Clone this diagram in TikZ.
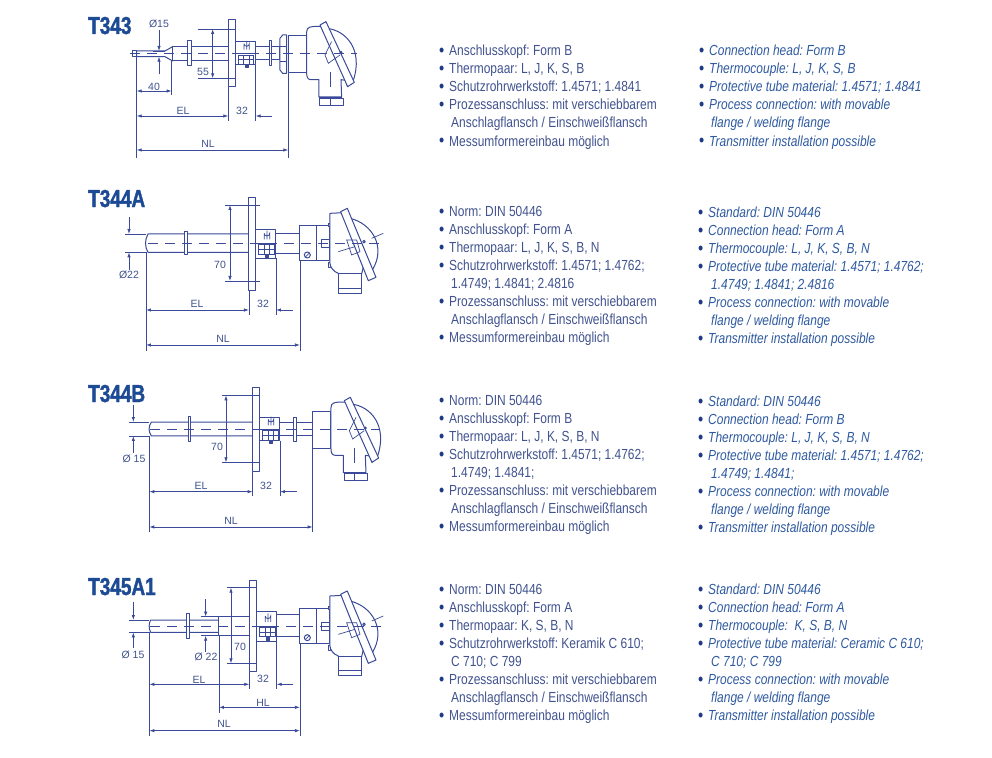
\documentclass[tikz,border=0pt]{standalone}
\usepackage{fontspec}
\usetikzlibrary{arrows.meta}
\setmainfont[FakeStretch=0.82]{Liberation Sans}
\newfontfamily\titlefont[FakeStretch=0.775,FakeBold=1.5]{Liberation Sans Bold}
\newfontfamily\dimfont{Liberation Sans}
\definecolor{dline}{HTML}{3A4A98}
\definecolor{ltxt}{HTML}{41538F}
\definecolor{rtxt}{HTML}{2F5AA0}
\definecolor{ttl}{HTML}{1C4A94}
\definecolor{blt}{HTML}{1F3A85}
\newcounter{tn}
\newcommand{\blob}{\smash{\textcolor{blt}{\upshape\fontsize{18}{14}\selectfont\raisebox{-1pt}{•}}}}
\tikzset{
 titletxt/.style={anchor=base west,inner sep=0pt,text=ttl,font=\titlefont\fontsize{24.5}{24}\selectfont},
 ltext/.style={anchor=base west,inner sep=0pt,text=ltxt,font=\frenchspacing\fontsize{14.6}{14}\selectfont},
 rtext/.style={anchor=base west,inner sep=0pt,text=rtxt,font=\frenchspacing\itshape\fontsize{14.6}{14}\selectfont},
 dimtxt/.style={inner sep=0pt,text=ltxt,font=\dimfont\fontsize{10.5}{10}\selectfont},
 part/.style={draw=dline,line width=1pt,fill=white,line join=round},
 thin part/.style={draw=dline,line width=0.7pt},
 axisline/.style={draw=dline,line width=0.6pt,dash pattern=on 10pt off 7pt},
 extline/.style={draw=dline,line width=0.75pt},
 dimline/.style={draw=dline,line width=0.75pt,{Latex[length=5pt,width=3.4pt]}-{Latex[length=5pt,width=3.4pt]}},
 dimhead/.style={draw=dline,line width=0.75pt,-{Latex[length=5pt,width=3.4pt]}},
 pics/headb/.style={code={
  \draw[part] (0,-55) rectangle (55,58);
  \draw[part] (55,-55) -- (55,-65) .. controls (55,-80) and (65,-82) .. (95,-82) -- (115,-76)
     .. controls (175,-70) and (225,-10) .. (195,80) -- (178,99) -- (172,80) -- (158,78) -- (160,130) -- (92,130) -- (92,78) -- (68,78) .. controls (58,78) and (55,70) .. (55,58) -- cycle;
  \draw[part] (95,-86) -- (113,-96) -- (198,86) -- (178,99) -- cycle;
  \draw[thin part] (130,-36) -- (110,4) -- (120,29) -- (155,4);
  \draw[part] (158,-4) circle (3);
  \draw[part] (95,134) rectangle (165,155);
  \draw[thin part] (92,130) -- (160,130);
  \draw[thin part] (125,134) -- (125,155);
  \draw[thin part] (125,55) -- (125,100);
 }},
 pics/heada/.style={code={
  \draw[part] (0,-52) rectangle (50,52);
  \draw[part] (50,-52) rectangle (90,52);
  \draw[part] (85,-60) rectangle (92,-50);
  \draw[part] (85,58) rectangle (92,72);
  \draw[part] (90,-90) -- (128,-92) -- (150,-75) .. controls (215,-60) and (260,10) .. (217,80) -- (195,50) -- (185,92) -- (115,92) -- (115,90) .. controls (100,85) and (90,70) .. (90,60) -- cycle;
  \draw[part] (122,-95) -- (142,-105) -- (228,102) -- (205,112) -- cycle;
  \draw[part] (65,-10) rectangle (90,12);
  \draw[thin part] (140,-10) -- (170,-10) -- (180,25) -- (155,35) -- cycle;
  \draw[part] (192,-5) circle (4);
  \draw[part] (117,92) rectangle (185,135);
  \draw[part] (117,135) rectangle (185,150);
  \draw[part] (22,35) circle (9);
  \draw[thin part] (16,41) -- (28,29);
  \draw[thin part] (115,25) -- (165,10);
  \draw[thin part] (215,-15) -- (250,-30);
 }},
 pics/clamp/.style={code={
  % block with screw detail; origin at block left, axis level
  \draw[thin part] (0,0) -- (60,0);
  \draw[thin part] (25,-30) arc (180:0:8) -- (41,-12) (25,-30) -- (25,-12) (33,-38) -- (33,-12);
  \draw[thin part] (8,4) rectangle (54,18);
  \draw[thin part] (8,18) rectangle (54,32);
  \draw[thin part] (24,4) -- (24,32) (40,4) -- (40,32);
  \draw[part,fill=dline] (30,34) rectangle (38,42);
 }}
}
\newcommand{\lt}[3]{\stepcounter{tn}\node[ltext,name=t\thetn] at (#1,#2) {\makebox[10pt][l]{\blob}#3};}
\newcommand{\lc}[3]{\stepcounter{tn}\node[ltext,name=t\thetn] at (#1,#2) {#3};}
\newcommand{\rt}[3]{\stepcounter{tn}\node[rtext,name=t\thetn] at (#1,#2) {\makebox[10pt][l]{\blob}#3};}
\newcommand{\rc}[3]{\stepcounter{tn}\node[rtext,name=t\thetn] at (#1,#2) {#3};}
\newcommand{\dtx}[3]{\stepcounter{tn}\node[dimtxt,name=t\thetn] at (#1,#2) {#3};}
\begin{document}
\begin{tikzpicture}[x=1pt,y=-1pt]
\useasboundingbox (0,0) rectangle (992,757);
\fill[white] (0,0) rectangle (992,757);

% titles
\node[titletxt,name=h1] at (88,34) {T343};
\node[titletxt,name=h2] at (88,207) {T344A};
\node[titletxt,name=h3] at (88,402) {T344B};
\node[titletxt,name=h4] at (88,595) {T345A1};

% ---- T343 drawing
\begin{scope}[shift={(120pt,-5pt)},x=0.3333pt,y=-0.3333pt]
 \draw[part] (38,138) rectangle (50,155);
 \draw[part] (50,138) -- (135,138) -- (158,125) -- (158,168) -- (135,155) -- (50,155) -- cycle;
 \draw[part] (158,125) rectangle (325,168);
 \draw[part] (204,108) rectangle (214,183);
 \draw[part] (347,110) rectangle (407,180);
 \draw[part] (407,125) rectangle (480,165);
 \draw[part] (448,108) rectangle (456,182);
 \draw[part] (325,45) rectangle (347,245);
 \draw[part] (480,100) -- (488,90) -- (500,90) -- (500,205) -- (488,205) -- (480,195) -- cycle;
 \draw[thin part] (480,125) -- (500,125) (480,168) -- (500,168);
 \pic at (505,146) {headb};
 \pic at (347,146) {clamp};
 \draw[axisline] (30,146) -- (710,146);
 % dims
 \draw[extline] (50,150) -- (50,458) (155,165) -- (155,270) (325,245) -- (325,348) (407,180) -- (407,348) (505,205) -- (505,458);
 \draw[extline] (233,72) -- (345,72) (233,220) -- (345,220);
 \draw[extline] (100,138) -- (135,138) (100,155) -- (135,155);
 \draw[dimhead] (117,75) -- (117,138);
 \draw[dimhead] (117,208) -- (117,155);
 \draw[dimline] (278,72) -- (278,220);
 \draw[dimline] (50,258) -- (155,258);
 \draw[dimline] (50,333) -- (325,333);
 \draw[dimhead] (457,333) -- (407,333);
 \draw[dimline] (50,435) -- (505,435);
\end{scope}
\dtx{159}{24}{Ø15}\dtx{203}{72}{55}\dtx{154}{87}{40}\dtx{183}{111}{EL}\dtx{242}{111}{32}\dtx{208}{144}{NL}

% ---- T344A drawing
\begin{scope}[shift={(120pt,-190pt)},x=0.3333pt,y=-0.3333pt]
 \draw[part] (84,132) -- (387,132) -- (387,187) -- (84,187) .. controls (74,170) and (74,150) .. (84,132) -- cycle;
 \draw[part] (195,125) rectangle (203,195);
 \draw[part] (408,118) rectangle (468,205);
 \draw[part] (468,130) rectangle (540,190);
 \draw[part] (387,22) rectangle (408,302);
 \pic at (540,160) {heada};
 \pic at (408,160) {clamp};
 \draw[axisline] (85,160) -- (790,160);
 \draw[extline] (78,187) -- (78,482) (387,302) -- (387,375) (468,205) -- (468,375) (540,212) -- (540,482);
 \draw[extline] (15,132) -- (78,132) (15,187) -- (78,187);
 \draw[extline] (315,45) -- (420,45) (315,273) -- (420,273);
 \draw[dimhead] (27,80) -- (27,132);
 \draw[dimhead] (27,240) -- (27,187);
 \draw[dimline] (330,45) -- (330,273);
 \draw[dimline] (78,360) -- (387,360);
 \draw[dimhead] (518,360) -- (468,360);
 \draw[dimline] (78,465) -- (540,465);
\end{scope}
\dtx{129}{275}{Ø22}\dtx{220}{265}{70}\dtx{197}{304}{EL}\dtx{263}{304}{32}\dtx{223}{339}{NL}

% ---- T344B drawing
\begin{scope}[shift={(120pt,-380pt)},x=0.3333pt,y=-0.3333pt]
 \draw[part] (94,126) -- (398,126) -- (398,168) -- (94,168) .. controls (85,155) and (85,140) .. (94,126) -- cycle;
 \draw[part] (205,110) rectangle (213,185);
 \draw[part] (420,113) rectangle (480,182);
 \draw[part] (480,126) rectangle (578,168);
 \draw[part] (522,112) rectangle (530,185);
 \draw[part] (398,22) rectangle (420,275);
 \pic at (578,148) {headb};
 \pic at (420,148) {clamp};
 \draw[axisline] (90,148) -- (780,148);
 \draw[extline] (88,168) -- (88,455) (398,275) -- (398,347) (480,182) -- (480,347) (578,205) -- (578,455);
 \draw[extline] (28,126) -- (88,126) (28,168) -- (88,168);
 \draw[extline] (305,46) -- (420,46) (305,247) -- (420,247);
 \draw[dimhead] (40,75) -- (40,126);
 \draw[dimhead] (40,218) -- (40,168);
 \draw[dimline] (318,46) -- (318,247);
 \draw[dimline] (88,335) -- (398,335);
 \draw[dimhead] (530,335) -- (480,335);
 \draw[dimline] (88,441) -- (578,441);
\end{scope}
\dtx{134}{459}{Ø 15}\dtx{217}{447}{70}\dtx{201}{486}{EL}\dtx{266}{486}{32}\dtx{231}{521}{NL}

% ---- T345A1 drawing
\begin{scope}[shift={(120pt,-570pt)},x=0.3333pt,y=-0.3333pt]
 \draw[part] (92,150) -- (297,150) -- (297,187) -- (92,187) .. controls (86,175) and (86,160) .. (92,150) -- cycle;
 \draw[part] (200,130) rectangle (208,205);
 \draw[part] (297,140) rectangle (388,197);
 \draw[part] (411,123) rectangle (470,213);
 \draw[part] (470,133) rectangle (540,200);
 \draw[part] (388,30) rectangle (411,305);
 \pic at (540,168) {heada};
 \pic at (411,168) {clamp};
 \draw[axisline] (90,168) -- (790,168);
 \draw[extline] (88,187) -- (88,497) (297,197) -- (297,430) (388,305) -- (388,358) (470,213) -- (470,358) (540,220) -- (540,497);
 \draw[extline] (28,150) -- (88,150) (28,187) -- (88,187);
 \draw[extline] (243,140) -- (297,140) (243,197) -- (297,197);
 \draw[extline] (320,53) -- (411,53) (320,280) -- (411,280);
 \draw[dimhead] (40,97) -- (40,150);
 \draw[dimhead] (40,235) -- (40,187);
 \draw[dimhead] (257,88) -- (257,140);
 \draw[dimhead] (257,245) -- (257,197);
 \draw[dimline] (333,53) -- (333,280);
 \draw[dimline] (88,343) -- (388,343);
 \draw[dimhead] (520,343) -- (470,343);
 \draw[dimline] (297,412) -- (540,412);
 \draw[dimline] (88,482) -- (540,482);
\end{scope}
\dtx{133}{655}{Ø 15}\dtx{206}{657}{Ø 22}\dtx{240}{647}{70}\dtx{199}{680}{EL}\dtx{263}{679}{32}\dtx{263}{703}{HL}\dtx{224}{724}{NL}

% ---- German text
\lt{439}{56}{Anschlusskopf: Form B}
\lt{439}{74}{Thermopaar: L, J, K, S, B}
\lt{439}{92}{Schutzrohrwerkstoff: 1.4571; 1.4841}
\lt{439}{110}{Prozessanschluss: mit verschiebbarem}
\lc{451}{128}{Anschlagflansch / Einschweißflansch}
\lt{439}{146}{Messumformereinbau möglich}

\lt{439}{216}{Norm: DIN 50446}
\lt{439}{234}{Anschlusskopf: Form A}
\lt{439}{252}{Thermopaar: L, J, K, S, B, N}
\lt{439}{270}{Schutzrohrwerkstoff: 1.4571; 1.4762;}
\lc{451}{288}{1.4749; 1.4841; 2.4816}
\lt{439}{306}{Prozessanschluss: mit verschiebbarem}
\lc{451}{324}{Anschlagflansch / Einschweißflansch}
\lt{439}{342}{Messumformereinbau möglich}

\lt{439}{405}{Norm: DIN 50446}
\lt{439}{423}{Anschlusskopf: Form B}
\lt{439}{441}{Thermopaar: L, J, K, S, B, N}
\lt{439}{459}{Schutzrohrwerkstoff: 1.4571; 1.4762;}
\lc{451}{477}{1.4749; 1.4841;}
\lt{439}{495}{Prozessanschluss: mit verschiebbarem}
\lc{451}{513}{Anschlagflansch / Einschweißflansch}
\lt{439}{531}{Messumformereinbau möglich}

\lt{439}{594}{Norm: DIN 50446}
\lt{439}{612}{Anschlusskopf: Form A}
\lt{439}{630}{Thermopaar: K, S, B, N}
\lt{439}{648}{Schutzrohrwerkstoff: Keramik C 610;}
\lc{451}{666}{C 710; C 799}
\lt{439}{684}{Prozessanschluss: mit verschiebbarem}
\lc{451}{702}{Anschlagflansch / Einschweißflansch}
\lt{439}{720}{Messumformereinbau möglich}

% ---- English text
\rt{699}{56}{Connection head: Form B}
\rt{699}{74}{Thermocouple: L, J, K, S, B}
\rt{699}{92}{Protective tube material: 1.4571; 1.4841}
\rt{699}{110}{Process connection: with movable}
\rc{711}{128}{flange / welding flange}
\rt{699}{146}{Transmitter installation possible}

\rt{698}{217}{Standard: DIN 50446}
\rt{698}{235}{Connection head: Form A}
\rt{698}{253}{Thermocouple: L, J, K, S, B, N}
\rt{698}{271}{Protective tube material: 1.4571; 1.4762;}
\rc{711}{289}{1.4749; 1.4841; 2.4816}
\rt{698}{307}{Process connection: with movable}
\rc{711}{325}{flange / welding flange}
\rt{698}{343}{Transmitter installation possible}

\rt{698}{406}{Standard: DIN 50446}
\rt{698}{424}{Connection head: Form B}
\rt{698}{442}{Thermocouple: L, J, K, S, B, N}
\rt{698}{460}{Protective tube material: 1.4571; 1.4762;}
\rc{711}{478}{1.4749; 1.4841;}
\rt{698}{496}{Process connection: with movable}
\rc{711}{514}{flange / welding flange}
\rt{698}{532}{Transmitter installation possible}

\rt{698}{594}{Standard: DIN 50446}
\rt{698}{612}{Connection head: Form A}
\rt{698}{630}{Thermocouple:\ \ K, S, B, N}
\rt{698}{648}{Protective tube material: Ceramic C 610;}
\rc{711}{666}{C 710; C 799}
\rt{698}{684}{Process connection: with movable}
\rc{711}{702}{flange / welding flange}
\rt{698}{720}{Transmitter installation possible}
\end{tikzpicture}
\end{document}
